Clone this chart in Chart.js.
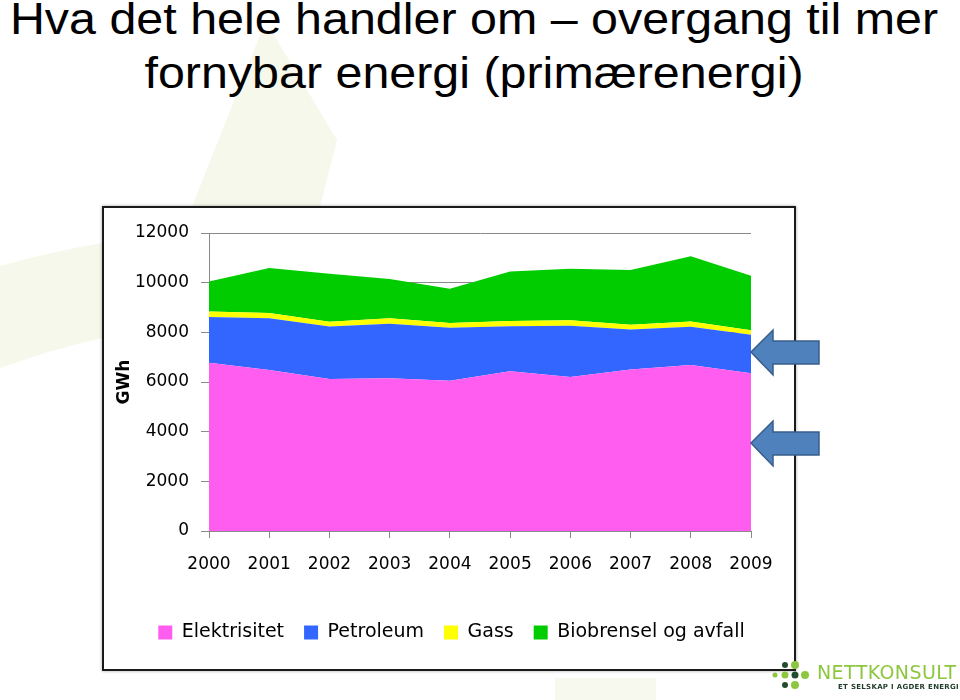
<!DOCTYPE html>
<html>
<head>
<meta charset="utf-8">
<script src="https://cdn.jsdelivr.net/npm/chart.js@4"></script>
<style>
    body { margin: 0; width: 960px; height: 700px; background: #fff; position: relative; overflow: hidden; font-family: "Liberation Sans", Arial, sans-serif; }
    .tittel { position: absolute; left: 0; width: 948px; text-align: center; font-size: 44px; line-height: 55px; color: #000; transform: scaleX(1.1); transform-origin: 474px 0; }
    #bakgrunn { position: absolute; left: 0; top: 0; }
    #ramme { position: absolute; left: 102px; top: 206px; width: 690px; height: 461px; border: 2px solid #1a1a1a; background: #fff; box-shadow: 0 0 3px rgba(0,0,0,0.35); }
    #graf { position: absolute; left: 104px; top: 208px; width: 690px; height: 461px; }
    #piler { position: absolute; left: 0; top: 0; }
    .logo { position: absolute; left: 817px; top: 661px; font-family: "DejaVu Sans", sans-serif; color: #8dc63f; font-size: 19px; letter-spacing: 0.4px; }
    .logo-under { position: absolute; left: 838px; top: 683px; font-family: "DejaVu Sans", sans-serif; font-weight: bold; color: #1f3d2a; font-size: 7px; letter-spacing: 0.3px; }
</style>
</head>
<body>
<svg id="bakgrunn" width="960" height="700">
    <polygon points="262,30 271,30 337,140 320,207 192,207" fill="#f5f8ea"/>
    <path d="M0,266 Q50,252 102,243 L102,338 Q50,350 0,368 Z" fill="#f5f8ea"/>
    <polygon points="555,678 656,678 656,700 555,700" fill="#f7f9ee"/>
</svg>

<div class="tittel" style="top:-9px">Hva det hele handler om – overgang til mer</div>
<div class="tittel" style="top:45px">fornybar energi (primærenergi)</div>

<div id="ramme"></div>
<div id="graf"><canvas id="energiChart"></canvas></div>

<svg id="piler" width="960" height="700">
    <polygon points="751,352 773,330 773,341 819,341 819,364 773,364 773,375" fill="#4f81bd" stroke="#385d8a" stroke-width="1.5"/>
    <polygon points="751,443 773,421 773,432 819,432 819,455 773,455 773,466" fill="#4f81bd" stroke="#385d8a" stroke-width="1.5"/>
    <circle cx="785" cy="665" r="3" fill="#1f4d2e"/>
    <circle cx="795" cy="665" r="4" fill="#8dc63f"/>
    <circle cx="775" cy="675" r="2.5" fill="#8dc63f"/>
    <circle cx="785" cy="675" r="3.5" fill="#8dc63f"/>
    <circle cx="795" cy="675" r="3.5" fill="#1f4d2e"/>
    <circle cx="805" cy="675" r="4" fill="#8dc63f"/>
    <circle cx="785" cy="685" r="3" fill="#1f4d2e"/>
    <circle cx="795" cy="685" r="4" fill="#8dc63f"/>
</svg>
<div class="logo">NETTKONSULT</div>
<div class="logo-under">ET SELSKAP I AGDER ENERGI</div>

<script>
    const aar = ['2000', '2001', '2002', '2003', '2004', '2005', '2006', '2007', '2008', '2009'];
    const elektrisitet = [6780, 6480, 6120, 6150, 6050, 6430, 6200, 6500, 6680, 6350];
    const petroleum = [1840, 2090, 2110, 2200, 2130, 1820, 2070, 1610, 1540, 1550];
    const gass = [215, 210, 200, 215, 200, 210, 215, 200, 215, 185];
    const biobrensel = [1215, 1810, 1925, 1585, 1380, 1990, 2075, 2205, 2625, 2195];
    const yTicks = [0, 2000, 4000, 6000, 8000, 10000, 12000];

    const tekstFont = { family: '"DejaVu Sans", sans-serif', size: 17 };

    function lag(navn, data, farge, fyll) {
        return {
            label: navn,
            data: data,
            backgroundColor: farge,
            borderColor: farge,
            borderWidth: 0,
            pointRadius: 0,
            tension: 0,
            fill: fyll
        };
    }

    // legenden står litt til høyre for midten i originalen
    const flyttLegende = {
        id: 'flyttLegende',
        afterLayout(chart) {
            chart.legend.left += 24;
            chart.legend.right += 24;
        }
    };

    const ctx = document.getElementById('energiChart').getContext('2d');
    new Chart(ctx, {
        type: 'line',
        data: {
            labels: aar,
            datasets: [
                lag('Elektrisitet', elektrisitet, '#ff5cf0', 'origin'),
                lag('Petroleum', petroleum, '#3366ff', '-1'),
                lag('Gass', gass, '#ffff00', '-1'),
                lag('Biobrensel og avfall', biobrensel, '#00cc00', '-1')
            ]
        },
        plugins: [flyttLegende],
        options: {
            responsive: true,
            maintainAspectRatio: false,
            animation: false,
            layout: {
                padding: { left: 0, right: 43, top: 25, bottom: 17 }
            },
            plugins: {
                tooltip: { enabled: false },
                legend: {
                    position: 'bottom',
                    labels: {
                        boxWidth: 14,
                        boxHeight: 14,
                        padding: 20,
                        color: '#000',
                        font: { family: '"DejaVu Sans", sans-serif', size: 19 }
                    }
                }
            },
            scales: {
                x: {
                    offset: false,
                    grid: { drawOnChartArea: false, tickLength: 7, color: '#8a8a8a' },
                    border: { color: '#8a8a8a' },
                    ticks: { color: '#000', font: tekstFont, padding: 16, maxRotation: 0 },
                    afterFit: (skala) => { skala.height = 72; }
                },
                y: {
                    stacked: true,
                    min: 0,
                    max: 12000,
                    afterBuildTicks: (skala) => { skala.ticks = yTicks.map(v => ({ value: v })); },
                    afterFit: (skala) => { skala.width = 105; },
                    grid: { color: '#8a8a8a', tickLength: 8 },
                    border: { color: '#8a8a8a' },
                    ticks: { color: '#000', font: tekstFont, padding: 12, callback: (v) => String(v) },
                    title: {
                        display: true,
                        text: 'GWh',
                        color: '#000',
                        font: { family: '"DejaVu Sans", sans-serif', size: 17, weight: 'bold' },
                        padding: { top: 10, bottom: 0 }
                    }
                }
            }
        }
    });
</script>
</body>
</html>
